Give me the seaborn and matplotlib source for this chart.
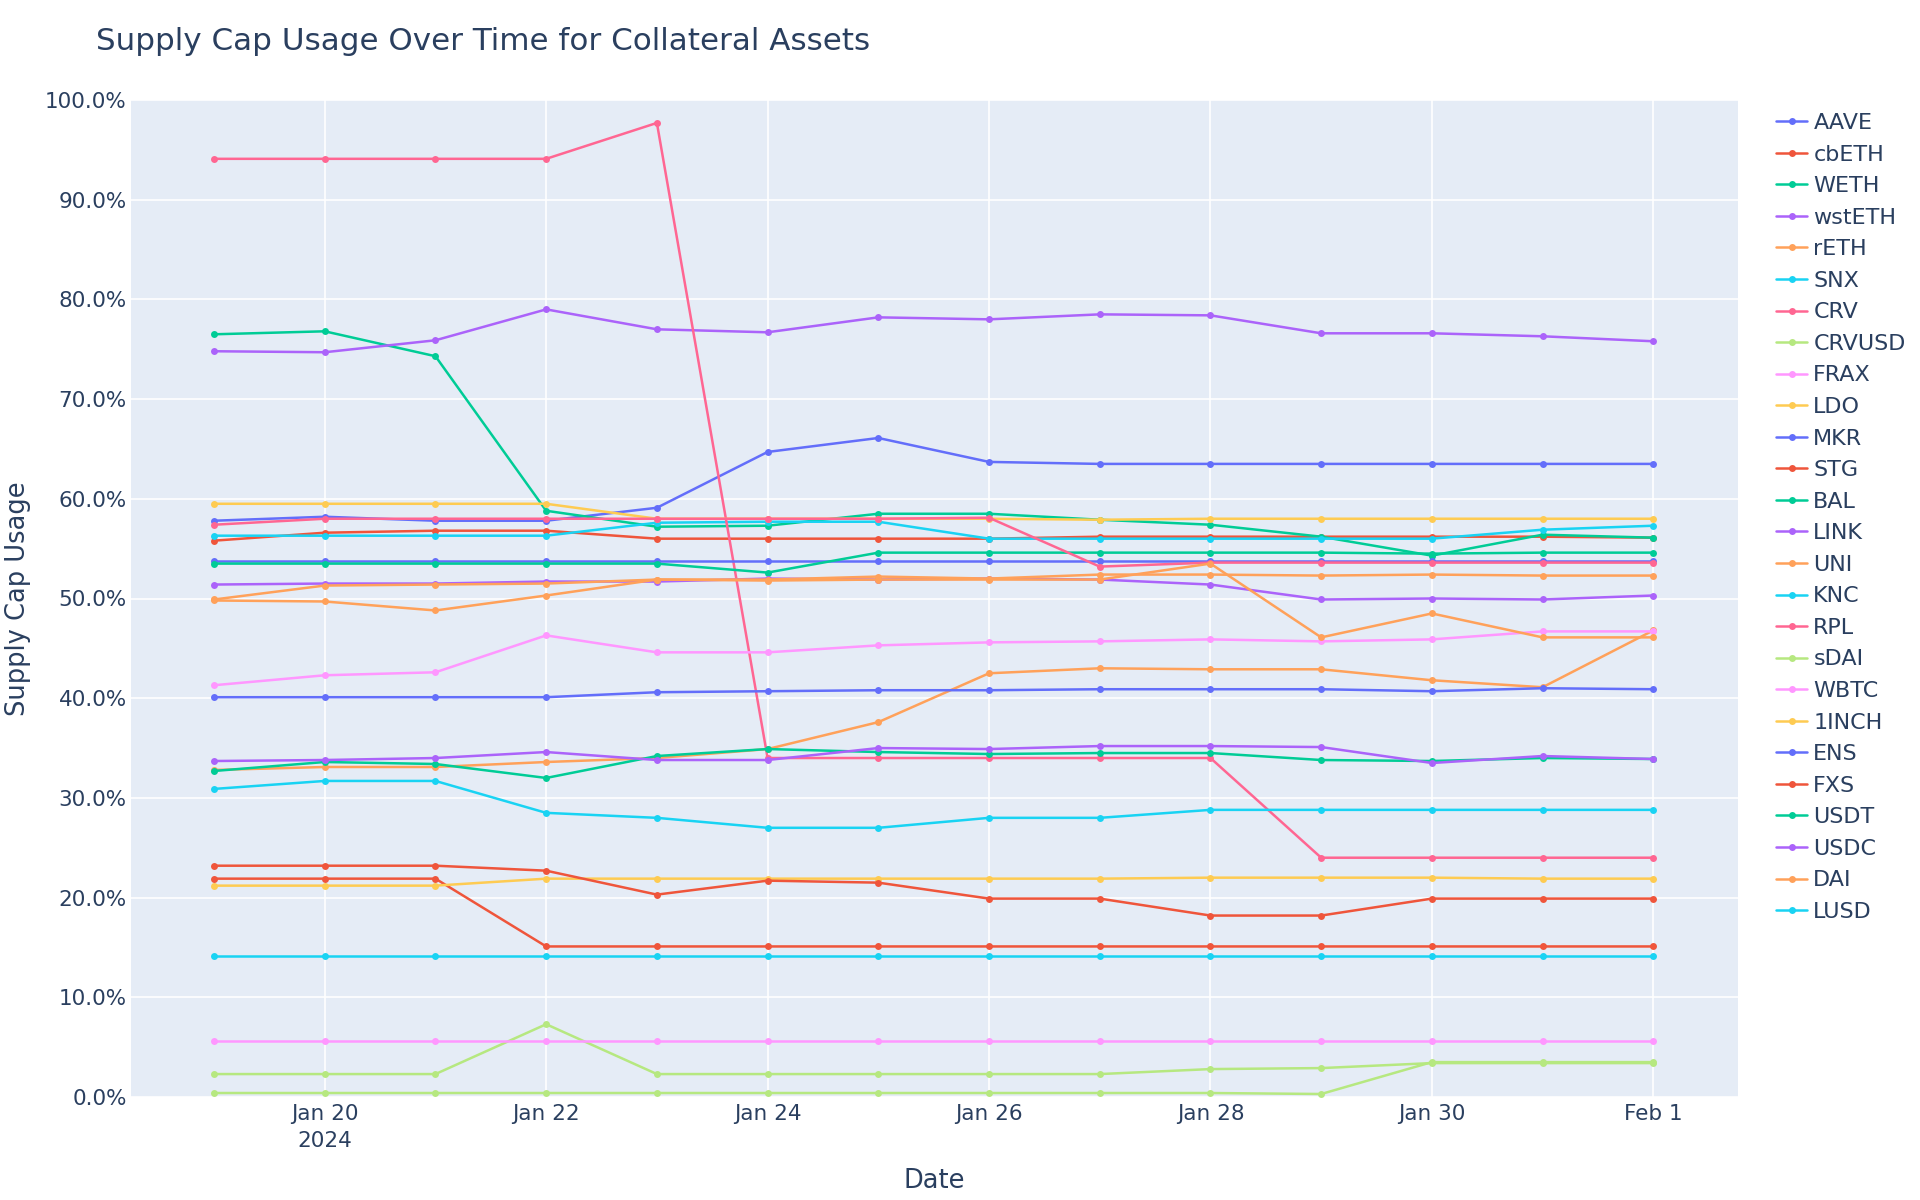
# -*- coding: utf-8 -*-
"""
Supply cap usage over time for the collateral assets, one line per asset
"""

import pandas as pd
import matplotlib
matplotlib.use("Agg")
import matplotlib.pyplot as plt
import seaborn as sns

# the days we have a snapshot for
dates = ["2024-01-19", "2024-01-20", "2024-01-21", "2024-01-22", "2024-01-23",
         "2024-01-24", "2024-01-25", "2024-01-26", "2024-01-27", "2024-01-28",
         "2024-01-29", "2024-01-30", "2024-01-31", "2024-02-01"]

# supply cap usage per asset, in percent
AAVE = [57.8, 58.2, 57.8, 57.8, 59.1, 64.7, 66.1, 63.7, 63.5, 63.5, 63.5, 63.5, 63.5, 63.5]
cbETH = [55.8, 56.6, 56.8, 56.8, 56.0, 56.0, 56.0, 56.0, 56.2, 56.2, 56.2, 56.2, 56.2, 56.1]
WETH = [76.5, 76.8, 74.3, 58.8, 57.2, 57.3, 58.5, 58.5, 57.9, 57.4, 56.2, 54.3, 56.4, 56.1]
wstETH = [74.8, 74.7, 75.9, 79.0, 77.0, 76.7, 78.2, 78.0, 78.5, 78.4, 76.6, 76.6, 76.3, 75.8]
rETH = [32.8, 33.1, 33.1, 33.6, 34.0, 34.9, 37.6, 42.5, 43.0, 42.9, 42.9, 41.8, 41.1, 46.8]
SNX = [56.3, 56.3, 56.3, 56.3, 57.6, 57.7, 57.7, 56.0, 56.0, 56.0, 56.0, 56.0, 56.9, 57.3]
CRV = [94.1, 94.1, 94.1, 94.1, 97.7, 34.0, 34.0, 34.0, 34.0, 34.0, 24.0, 24.0, 24.0, 24.0]
CRVUSD = [2.3, 2.3, 2.3, 7.3, 2.3, 2.3, 2.3, 2.3, 2.3, 2.8, 2.9, 3.4, 3.4, 3.4]
FRAX = [41.3, 42.3, 42.6, 46.3, 44.6, 44.6, 45.3, 45.6, 45.7, 45.9, 45.7, 45.9, 46.7, 46.7]
LDO = [59.5, 59.5, 59.5, 59.5, 58.0, 58.0, 58.0, 58.0, 57.9, 58.0, 58.0, 58.0, 58.0, 58.0]
MKR = [53.8, 53.8, 53.8, 53.8, 53.8, 53.8, 53.8, 53.8, 53.8, 53.8, 53.8, 53.8, 53.8, 53.8]
STG = [21.9, 21.9, 21.9, 15.1, 15.1, 15.1, 15.1, 15.1, 15.1, 15.1, 15.1, 15.1, 15.1, 15.1]
BAL = [53.5, 53.5, 53.5, 53.5, 53.5, 52.6, 54.6, 54.6, 54.6, 54.6, 54.6, 54.5, 54.6, 54.6]
LINK = [51.4, 51.5, 51.5, 51.7, 51.7, 52.0, 51.9, 52.0, 51.9, 51.4, 49.9, 50.0, 49.9, 50.3]
UNI = [49.9, 51.3, 51.4, 51.5, 51.9, 51.9, 52.2, 52.0, 52.4, 52.4, 52.3, 52.4, 52.3, 52.3]
KNC = [30.9, 31.7, 31.7, 28.5, 28.0, 27.0, 27.0, 28.0, 28.0, 28.8, 28.8, 28.8, 28.8, 28.8]
RPL = [57.4, 58.0, 58.0, 58.0, 58.0, 58.0, 58.0, 58.1, 53.2, 53.6, 53.6, 53.6, 53.6, 53.6]
sDAI = [0.4, 0.4, 0.4, 0.4, 0.4, 0.4, 0.4, 0.4, 0.4, 0.4, 0.3, 3.5, 3.5, 3.5]
WBTC = [5.65, 5.65, 5.65, 5.65, 5.65, 5.65, 5.65, 5.65, 5.65, 5.65, 5.65, 5.65, 5.65, 5.65]
INCH1 = [21.2, 21.2, 21.2, 21.9, 21.9, 21.9, 21.9, 21.9, 21.9, 22.0, 22.0, 22.0, 21.9, 21.9]
ENS = [40.1, 40.1, 40.1, 40.1, 40.6, 40.7, 40.8, 40.8, 40.9, 40.9, 40.9, 40.7, 41.0, 40.9]
FXS = [23.2, 23.2, 23.2, 22.7, 20.3, 21.7, 21.5, 19.9, 19.9, 18.2, 18.2, 19.9, 19.9, 19.9]
USDT = [32.7, 33.6, 33.4, 32.0, 34.2, 34.9, 34.6, 34.4, 34.5, 34.5, 33.8, 33.7, 34.0, 33.9]
USDC = [33.7, 33.8, 34.0, 34.6, 33.8, 33.8, 35.0, 34.9, 35.2, 35.2, 35.1, 33.5, 34.2, 33.9]
DAI = [49.8, 49.7, 48.8, 50.3, 51.9, 51.8, 51.9, 51.9, 51.9, 53.5, 46.1, 48.5, 46.1, 46.1]
LUSD = [14.1, 14.1, 14.1, 14.1, 14.1, 14.1, 14.1, 14.1, 14.1, 14.1, 14.1, 14.1, 14.1, 14.1]

assets = ["AAVE", "cbETH", "WETH", "wstETH", "rETH", "SNX", "CRV", "CRVUSD", "FRAX",
          "LDO", "MKR", "STG", "BAL", "LINK", "UNI", "KNC", "RPL", "sDAI", "WBTC",
          "1INCH", "ENS", "FXS", "USDT", "USDC", "DAI", "LUSD"]
usage = [AAVE, cbETH, WETH, wstETH, rETH, SNX, CRV, CRVUSD, FRAX, LDO, MKR, STG, BAL,
         LINK, UNI, KNC, RPL, sDAI, WBTC, INCH1, ENS, FXS, USDT, USDC, DAI, LUSD]

# the usual plotly colour cycle, it repeats after ten assets
plotly_colors = ["#636EFA", "#EF553B", "#00CC96", "#AB63FA", "#FFA15A",
                 "#19D3F3", "#FF6692", "#B6E880", "#FF97FF", "#FECB52"]
palette = [plotly_colors[i % 10] for i in range(len(assets))]

# long table so seaborn can split by asset
rows = []
for name, values in zip(assets, usage):
    for d, v in zip(dates, values):
        rows.append({"Date": pd.Timestamp(d), "usage": v, "asset": name})
df = pd.DataFrame(rows)

text_color = "#2a3f5f"
sns.set_theme(style="darkgrid", rc={"axes.facecolor": "#E5ECF6", "grid.color": "white",
                                    "grid.linewidth": 1.2})
plt.rcParams["font.family"] = ["DejaVu Sans"]

fig = plt.figure(figsize=(19.2, 12), dpi=100)
ax = fig.add_axes([131 / 1920, 1 - 1097 / 1200, (1737.5 - 131) / 1920, (1097 - 100) / 1200])

sns.lineplot(data=df, x="Date", y="usage", hue="asset", hue_order=assets,
             palette=palette, marker="o", markersize=5, markeredgewidth=0,
             linewidth=1.8, ax=ax)

# axis ranges, a bit of room left and right of the dates
ax.set_xlim(pd.Timestamp("2024-01-18 06:00"), pd.Timestamp("2024-02-01 18:15"))
ax.set_ylim(0, 100)

tick_days = ["2024-01-20", "2024-01-22", "2024-01-24", "2024-01-26",
             "2024-01-28", "2024-01-30", "2024-02-01"]
tick_labels = ["Jan 20\n2024", "Jan 22", "Jan 24", "Jan 26", "Jan 28", "Jan 30", "Feb 1"]
ax.set_xticks([pd.Timestamp(t) for t in tick_days])
ax.set_xticklabels(tick_labels, linespacing=1.45, va="top")
ax.set_yticks(range(0, 101, 10))
ax.set_yticklabels(["{:.1f}%".format(v) for v in range(0, 101, 10)])
ax.tick_params(axis="both", length=0, labelsize=15.5, colors=text_color)
ax.tick_params(axis="x", pad=5)
ax.tick_params(axis="y", pad=3)
for spine in ax.spines.values():
    spine.set_visible(False)

ax.set_xlabel("Date", fontsize=18.5, color=text_color, labelpad=12)
ax.set_ylabel("Supply Cap Usage", fontsize=18.5, color=text_color, labelpad=10)

fig.text(96 / 1920, 1 - 41 / 1200, "Supply Cap Usage Over Time for Collateral Assets",
         fontsize=22.3, color=text_color, va="center", ha="left")

leg = ax.legend(loc="upper left", bbox_to_anchor=(1776 / 1920, 1 - 113 / 1200),
                bbox_transform=fig.transFigure, frameon=False, fontsize=16,
                handlelength=1.4, handletextpad=0.28, labelspacing=0.52,
                borderpad=0, borderaxespad=0)
for txt in leg.get_texts():
    txt.set_color(text_color)

fig.savefig("out.png", dpi=100)
